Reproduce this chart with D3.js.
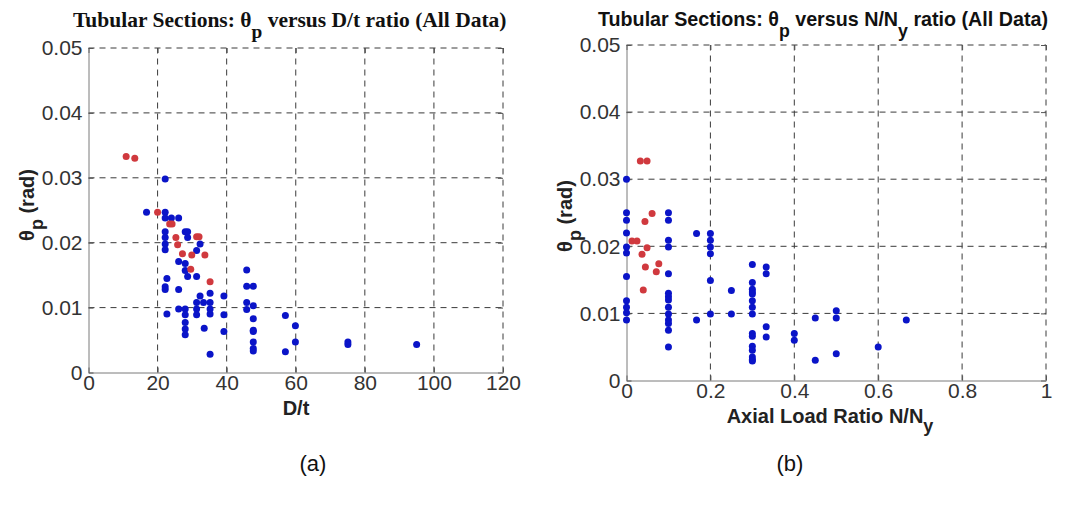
<!DOCTYPE html>
<html>
<head>
<meta charset="utf-8">
<script src="https://cdn.jsdelivr.net/npm/d3@7"></script>
<style>
  body { margin: 0; background: #fff; }
  svg { display: block; }
</style>
</head>
<body>
<div id="chart"></div>
<script>
// (a) theta_p vs D/t
const dtTicks = [0, 20, 40, 60, 80, 100, 120];
const thetaTicks = [0, 0.01, 0.02, 0.03, 0.04, 0.05];

const dtRed = [
    [10.9, 0.0333], [13.4, 0.0330], [20.0, 0.0247], [23.5, 0.0229], [24.2, 0.0229],
    [25.3, 0.0208], [25.8, 0.0197], [27.2, 0.0183], [29.9, 0.0181], [31.3, 0.0209],
    [32.0, 0.0209], [33.7, 0.0181], [29.6, 0.0159], [35.2, 0.0140]
];
const dtBlue = [
    [22.2, 0.0298], [16.8, 0.0247], [22.2, 0.0247], [22.2, 0.0238], [24.0, 0.0238],
    [26.1, 0.0238], [22.2, 0.0217], [28.0, 0.0217], [28.7, 0.0217], [22.2, 0.0208],
    [28.7, 0.0208], [22.2, 0.0198], [32.3, 0.0198], [22.2, 0.0189], [31.3, 0.0188],
    [26.1, 0.0171], [28.0, 0.0168], [28.0, 0.0157], [28.7, 0.0148], [31.3, 0.0148],
    [22.7, 0.0145], [22.2, 0.0132], [22.2, 0.0128], [26.1, 0.0128], [32.3, 0.0118],
    [35.2, 0.0122], [39.2, 0.0118], [31.3, 0.0108], [33.3, 0.0108], [35.2, 0.0108],
    [26.1, 0.0098], [28.0, 0.0098], [31.3, 0.0098], [35.2, 0.0098], [22.7, 0.0090],
    [28.0, 0.0089], [31.3, 0.0089], [35.2, 0.0090], [39.2, 0.0089], [28.0, 0.0077],
    [28.0, 0.0067], [33.5, 0.0068], [28.0, 0.0058], [39.2, 0.0063], [35.2, 0.0028],
    [45.8, 0.0158], [45.8, 0.0133], [47.7, 0.0133], [45.8, 0.0108], [47.7, 0.0103],
    [45.8, 0.0097], [47.7, 0.0083], [47.7, 0.0065], [47.7, 0.0063], [47.7, 0.0047],
    [47.7, 0.0037], [47.7, 0.0033], [57.0, 0.0088], [59.9, 0.0072], [59.9, 0.0047],
    [57.0, 0.0032], [75.1, 0.0047], [75.1, 0.0043], [95.0, 0.0043]
];

// (b) theta_p vs N/Ny
const nTicks = [0, 0.2, 0.4, 0.6, 0.8, 1];

const nRed = [
    [0.033, 0.0327], [0.049, 0.0327], [0.013, 0.0208], [0.025, 0.0208], [0.061, 0.0249],
    [0.044, 0.0237], [0.049, 0.0198], [0.037, 0.0188], [0.045, 0.0169], [0.077, 0.0174],
    [0.071, 0.0162], [0.040, 0.0135]
];
const nBlue = [
    [0, 0.0300], [0, 0.0250], [0, 0.0239], [0, 0.0220], [0, 0.0199], [0, 0.0190],
    [0, 0.0155], [0, 0.0119], [0, 0.0109], [0, 0.0101], [0, 0.0090],
    [0.1, 0.0250], [0.1, 0.0239], [0.1, 0.0209], [0.1, 0.0199], [0.1, 0.0159],
    [0.1, 0.0130], [0.1, 0.0125], [0.1, 0.0120], [0.1, 0.0109], [0.1, 0.0099],
    [0.1, 0.0090], [0.1, 0.0085], [0.1, 0.0075], [0.1, 0.0050],
    [0.167, 0.0219], [0.167, 0.0090],
    [0.2, 0.0219], [0.2, 0.0209], [0.2, 0.0199], [0.2, 0.0189], [0.2, 0.0149], [0.2, 0.0099],
    [0.25, 0.0134], [0.25, 0.0099],
    [0.3, 0.0173], [0.3, 0.0146], [0.3, 0.0136], [0.3, 0.0132], [0.3, 0.0129],
    [0.3, 0.0119], [0.3, 0.0109], [0.3, 0.0099], [0.3, 0.0070], [0.3, 0.0066],
    [0.3, 0.0051], [0.3, 0.0045], [0.3, 0.0035], [0.3, 0.0031], [0.3, 0.0029],
    [0.333, 0.0169], [0.333, 0.0159], [0.333, 0.0080], [0.333, 0.0065],
    [0.4, 0.0070], [0.4, 0.0060],
    [0.45, 0.0093], [0.45, 0.0030],
    [0.5, 0.0104], [0.5, 0.0093], [0.5, 0.0040],
    [0.6, 0.0050],
    [0.667, 0.0090]
];

const width = 1079, height = 505;
const blue = '#0a14c8';
const red = '#d0393e';
const sans = '"Liberation Sans", Arial, sans-serif';

const svg = d3.select('#chart').append('svg')
    .attr('width', width)
    .attr('height', height)
    .attr('viewBox', [0, 0, width, height])
    .attr('font-family', sans);

function subText(sel, parts, subSize, shift) {
    // parts: [text, sub, text, sub, text ...]
    parts.forEach((p, i) => {
        const t = sel.append('tspan').text(p);
        if (i % 2 === 1) {
            t.attr('font-size', subSize).attr('dy', shift);
        } else if (i > 0) {
            t.attr('dy', -shift);
        }
    });
}

function drawPanel(opt) {
    const x = d3.scaleLinear().domain(opt.xDomain).range(opt.xRange);
    const y = d3.scaleLinear().domain([0, 0.05]).range(opt.yRange);
    const g = svg.append('g');
    const [x0, x1] = opt.xRange;
    const [y0, y1] = opt.yRange;

    // dashed grid
    g.append('g').selectAll('line')
        .data(opt.xTicks.slice(1))
        .join('line')
        .attr('x1', d => x(d)).attr('x2', d => x(d))
        .attr('y1', y0).attr('y2', y1)
        .attr('stroke', '#3a3a3a')
        .attr('stroke-width', 1)
        .attr('stroke-dasharray', '6,5');
    g.append('g').selectAll('line')
        .data(thetaTicks.slice(1))
        .join('line')
        .attr('x1', x0).attr('x2', x1)
        .attr('y1', d => y(d)).attr('y2', d => y(d))
        .attr('stroke', '#3a3a3a')
        .attr('stroke-width', 1)
        .attr('stroke-dasharray', '6,5');

    const styleAxis = a => {
        a.attr('font-size', 21).attr('font-family', sans);
        a.selectAll('.domain').attr('stroke', '#7a7a7a');
        a.selectAll('.tick line').attr('stroke', '#555');
        a.selectAll('.tick text').attr('fill', '#333');
    };

    // top and right ticks (no labels)
    g.append('g')
        .attr('transform', `translate(0,${y1})`)
        .call(d3.axisTop(x).tickValues(opt.xTicks).tickSize(-5).tickFormat(''))
        .call(styleAxis)
        .call(a => a.select('.domain').remove());
    g.append('g')
        .attr('transform', `translate(${x1},0)`)
        .call(d3.axisRight(y).tickValues(thetaTicks).tickSize(-5).tickFormat(''))
        .call(styleAxis)
        .call(a => a.select('.domain').remove());

    g.append('g')
        .attr('transform', `translate(0,${y0})`)
        .call(d3.axisBottom(x).tickValues(opt.xTicks).tickSize(-5).tickSizeOuter(0).tickPadding(3)
            .tickFormat(d3.format('')))
        .call(styleAxis);
    g.append('g')
        .attr('transform', `translate(${x0},0)`)
        .call(d3.axisLeft(y).tickValues(thetaTicks).tickSize(-5).tickSizeOuter(0).tickPadding(6)
            .tickFormat(d3.format('')))
        .call(styleAxis);

    // points
    g.append('g').selectAll('circle')
        .data(opt.blue)
        .join('circle')
        .attr('cx', d => x(d[0]))
        .attr('cy', d => y(d[1]))
        .attr('r', 3.5)
        .attr('fill', blue);
    g.append('g').selectAll('circle')
        .data(opt.red)
        .join('circle')
        .attr('cx', d => x(d[0]))
        .attr('cy', d => y(d[1]))
        .attr('r', 3.5)
        .attr('fill', red);

    // title
    const title = g.append('text')
        .attr('x', opt.title.x)
        .attr('y', opt.title.y)
        .attr('font-size', opt.title.size)
        .attr('font-weight', 'bold')
        .attr('font-family', opt.title.font)
        .attr('fill', '#111');
    subText(title, opt.title.parts, opt.title.size * 0.9, 11);

    // x label
    const xl = g.append('text')
        .attr('x', opt.xLabel.x)
        .attr('y', opt.xLabel.y)
        .attr('text-anchor', 'middle')
        .attr('font-size', 20)
        .attr('font-weight', 'bold')
        .attr('fill', '#222');
    subText(xl, opt.xLabel.parts, 18, 9);

    // y label
    const yl = g.append('text')
        .attr('transform', `translate(${opt.yLabel.x},${opt.yLabel.y}) rotate(-90)`)
        .attr('text-anchor', 'middle')
        .attr('font-size', 20)
        .attr('font-weight', 'bold')
        .attr('fill', '#222');
    subText(yl, ['θ', 'p', ' (rad)'], 18, 9);

    // caption
    g.append('text')
        .attr('x', opt.caption.x)
        .attr('y', opt.caption.y)
        .attr('text-anchor', 'middle')
        .attr('font-size', 22)
        .attr('fill', '#111')
        .text(opt.caption.text);
}

drawPanel({
    xDomain: [0, 120],
    xRange: [88.5, 503],
    yRange: [372.5, 48],
    xTicks: dtTicks,
    red: dtRed,
    blue: dtBlue,
    title: {
        x: 73, y: 27, size: 21.5,
        font: '"Liberation Serif", "Times New Roman", serif',
        parts: ['Tubular Sections: θ', 'p', ' versus D/t ratio (All Data)']
    },
    xLabel: { x: 296, y: 415, parts: ['D/t'] },
    yLabel: { x: 34, y: 205 },
    caption: { x: 313, y: 471, text: '(a)' }
});

drawPanel({
    xDomain: [0, 1],
    xRange: [626.5, 1046],
    yRange: [380.5, 45],
    xTicks: nTicks,
    red: nRed,
    blue: nBlue,
    title: {
        x: 598, y: 26, size: 19.7,
        font: sans,
        parts: ['Tubular Sections: θ', 'p', ' versus N/N', 'y', ' ratio (All Data)']
    },
    xLabel: { x: 830, y: 423, parts: ['Axial Load Ratio N/N', 'y'] },
    yLabel: { x: 572, y: 216 },
    caption: { x: 790, y: 471, text: '(b)' }
});
</script>
</body>
</html>
